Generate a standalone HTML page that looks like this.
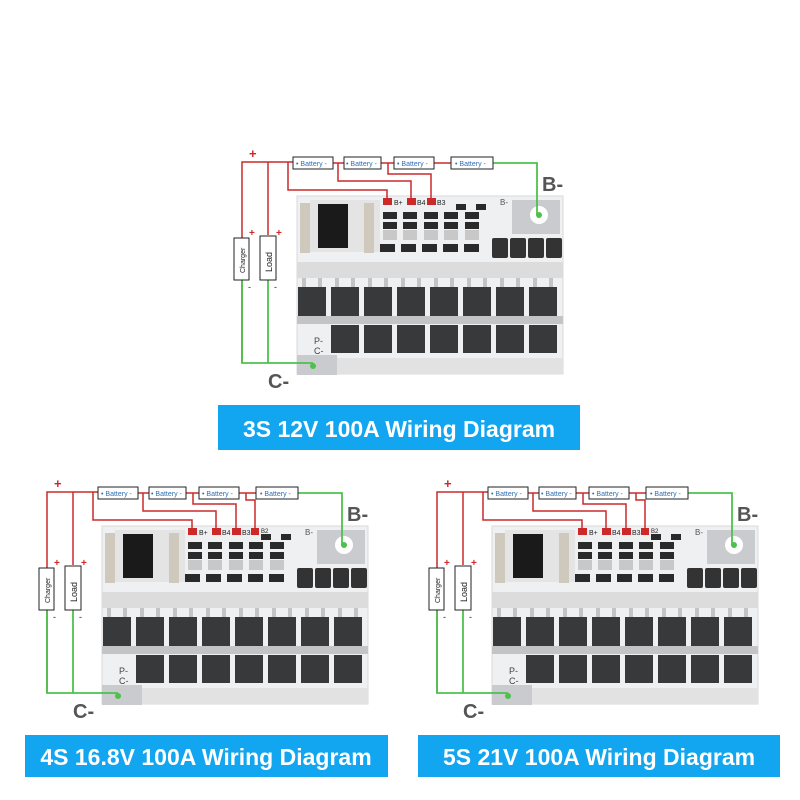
<!DOCTYPE html>
<html><head><style>
body{margin:0;background:#fff;}
svg{display:block}
</style></head><body>
<svg width="800" height="800" viewBox="0 0 800 800" xmlns="http://www.w3.org/2000/svg" font-family="Liberation Sans, sans-serif">
<defs>
<g id="diag">
  <rect x="297" y="196" width="266" height="178" fill="#eef0f2" stroke="#d8dadc"/>
  <rect x="310" y="200" width="70" height="52" fill="#e4e4e4"/>
  <rect x="318" y="204" width="30" height="44" fill="#1a1a1a"/>
  <rect x="300" y="203" width="10" height="50" fill="#cfc9bd"/>
  <rect x="364" y="203" width="10" height="50" fill="#cfc9bd"/>
  <g fill="#2a2a2a">
    <rect x="383" y="212" width="14" height="7"/><rect x="403" y="212" width="14" height="7"/><rect x="424" y="212" width="14" height="7"/><rect x="444" y="212" width="14" height="7"/><rect x="465" y="212" width="14" height="7"/>
    <rect x="383" y="222" width="14" height="7"/><rect x="403" y="222" width="14" height="7"/><rect x="424" y="222" width="14" height="7"/><rect x="444" y="222" width="14" height="7"/><rect x="465" y="222" width="14" height="7"/>
    <rect x="380" y="244" width="15" height="8"/><rect x="401" y="244" width="15" height="8"/><rect x="422" y="244" width="15" height="8"/><rect x="443" y="244" width="15" height="8"/><rect x="464" y="244" width="15" height="8"/>
    <rect x="456" y="204" width="10" height="6"/><rect x="476" y="204" width="10" height="6"/>
  </g>
  <g fill="#c8c8c8"><rect x="383" y="230" width="14" height="10"/><rect x="403" y="230" width="14" height="10"/><rect x="424" y="230" width="14" height="10"/><rect x="444" y="230" width="14" height="10"/><rect x="465" y="230" width="14" height="10"/></g>
  <g fill="#333"><rect x="492" y="238" width="16" height="20" rx="2"/><rect x="510" y="238" width="16" height="20" rx="2"/><rect x="528" y="238" width="16" height="20" rx="2"/><rect x="546" y="238" width="16" height="20" rx="2"/></g>
  <rect x="512" y="200" width="48" height="34" fill="#c9cbce"/>
  <circle cx="539" cy="215" r="9" fill="#fff"/>
  <rect x="297" y="262" width="266" height="16" fill="#dcdcdc"/>
  <g fill="#c4c4c4">
    <rect x="302" y="278" width="4" height="9"/><rect x="318" y="278" width="4" height="9"/><rect x="335" y="278" width="4" height="9"/><rect x="351" y="278" width="4" height="9"/><rect x="368" y="278" width="4" height="9"/><rect x="384" y="278" width="4" height="9"/><rect x="401" y="278" width="4" height="9"/><rect x="417" y="278" width="4" height="9"/><rect x="434" y="278" width="4" height="9"/><rect x="450" y="278" width="4" height="9"/><rect x="467" y="278" width="4" height="9"/><rect x="483" y="278" width="4" height="9"/><rect x="500" y="278" width="4" height="9"/><rect x="516" y="278" width="4" height="9"/><rect x="533" y="278" width="4" height="9"/><rect x="549" y="278" width="4" height="9"/>
    <rect x="297" y="316" width="266" height="8"/>
  </g>
  <g fill="#37393b">
    <rect x="298" y="287" width="28" height="29"/><rect x="331" y="287" width="28" height="29"/><rect x="364" y="287" width="28" height="29"/><rect x="397" y="287" width="28" height="29"/><rect x="430" y="287" width="28" height="29"/><rect x="463" y="287" width="28" height="29"/><rect x="496" y="287" width="28" height="29"/><rect x="529" y="287" width="28" height="29"/>
    <rect x="331" y="325" width="28" height="28"/><rect x="364" y="325" width="28" height="28"/><rect x="397" y="325" width="28" height="28"/><rect x="430" y="325" width="28" height="28"/><rect x="463" y="325" width="28" height="28"/><rect x="496" y="325" width="28" height="28"/><rect x="529" y="325" width="28" height="28"/>
  </g>
  <rect x="297" y="358" width="266" height="16" fill="#e2e2e2"/>
  <rect x="297" y="355" width="40" height="20" fill="#c9cbce"/>
  <text x="314" y="344" font-size="9" fill="#444">P-</text>
  <text x="314" y="354" font-size="9" fill="#444">C-</text>
  <text x="500" y="205" font-size="8" fill="#555">B-</text>
  <g fill="none" stroke="#cc2a2a" stroke-width="1.5">
    <polyline points="242,363 242,162 294,162"/>
    <line x1="268" y1="162" x2="268" y2="235"/>
    <polyline points="288,162 288,190 387,190 387,200"/>
    <line x1="333" y1="163" x2="344" y2="163"/>
    <polyline points="338,163 338,181 411,181 411,200"/>
    <line x1="381" y1="163" x2="394" y2="163"/>
    <polyline points="388,163 388,174 431,174 431,200"/>
    <line x1="434" y1="163" x2="451" y2="163"/>
  </g>
  <g fill="#cc2a2a"><rect x="383" y="198" width="9" height="7"/><rect x="407" y="198" width="9" height="7"/><rect x="427" y="198" width="9" height="7"/></g>
  <text x="394" y="205" font-size="7" fill="#222">B+</text>
  <text x="417" y="205" font-size="7" fill="#222">B4</text>
  <text x="437" y="205" font-size="7" fill="#222">B3</text>
  <g fill="none" stroke="#4cc24c" stroke-width="1.8">
    <polyline points="493,163 537,163 537,215"/>
    <polyline points="242,280 242,363 313,363"/>
    <line x1="268" y1="280" x2="268" y2="363"/>
  </g>
  <circle cx="539" cy="215" r="3" fill="#4cc24c"/>
  <circle cx="313" cy="366" r="3" fill="#4cc24c"/>
  <g fill="#fff" stroke="#222" stroke-width="1">
    <rect x="293" y="157" width="40" height="12"/><rect x="344" y="157" width="37" height="12"/><rect x="394" y="157" width="40" height="12"/><rect x="451" y="157" width="42" height="12"/>
  </g>
  <g font-size="7" fill="#2e6fb5">
    <text x="296" y="166">• Battery -</text><text x="346" y="166">• Battery -</text><text x="397" y="166">• Battery -</text><text x="455" y="166">• Battery -</text>
  </g>
  <rect x="234" y="238" width="15" height="42" fill="#fff" stroke="#222"/>
  <rect x="260" y="236" width="16" height="44" fill="#fff" stroke="#222"/>
  <text transform="translate(245,273) rotate(-90)" font-size="7" fill="#222">Charger</text>
  <text transform="translate(272,272) rotate(-90)" font-size="9" fill="#222">Load</text>
  <g fill="#cc2a2a" font-weight="bold"><text x="249" y="158" font-size="13">+</text><text x="249" y="236" font-size="10">+</text><text x="276" y="236" font-size="10">+</text></g>
  <text x="248" y="290" font-size="9" fill="#222">-</text><text x="274" y="290" font-size="9" fill="#222">-</text>
  <text x="542" y="191" font-size="20" font-weight="bold" fill="#555">B-</text>
  <text x="268" y="388" font-size="20" font-weight="bold" fill="#555">C-</text>
</g>
<g id="extra">
  <polyline points="441,163 441,170 450,170 450,200" fill="none" stroke="#cc2a2a" stroke-width="1.5"/>
  <rect x="446" y="198" width="8" height="7" fill="#cc2a2a"/>
  <text x="456" y="203" font-size="6" fill="#222">B2</text>
</g>
</defs>
<use href="#diag"/>
<use href="#diag" transform="translate(-195,330)"/>
<use href="#extra" transform="translate(-195,330)"/>
<use href="#diag" transform="translate(195,330)"/>
<use href="#extra" transform="translate(195,330)"/>
<rect x="218" y="405" width="362" height="45" fill="#12a5f0"/>
<text x="399" y="437" text-anchor="middle" font-size="23" font-weight="bold" fill="#fff">3S 12V 100A Wiring Diagram</text>
<rect x="25" y="735" width="363" height="42" fill="#12a5f0"/>
<text x="206" y="765" text-anchor="middle" font-size="23" font-weight="bold" fill="#fff">4S 16.8V 100A Wiring Diagram</text>
<rect x="418" y="735" width="362" height="42" fill="#12a5f0"/>
<text x="599" y="765" text-anchor="middle" font-size="23" font-weight="bold" fill="#fff">5S 21V 100A Wiring Diagram</text>
</svg>
</body></html>
